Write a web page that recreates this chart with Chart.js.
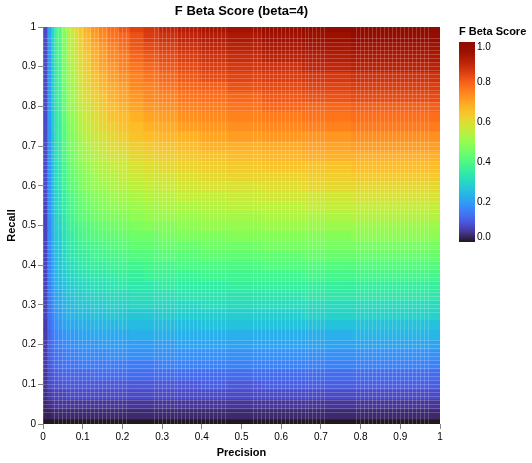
<!DOCTYPE html>
<html>
<head>
<meta charset="utf-8">
<style>
  html, body { margin: 0; background: #fff; }
  canvas { display: block; }
</style>
<script src="https://cdn.jsdelivr.net/npm/chart.js@4"></script>
</head>
<body>
<canvas id="heatmap" width="532" height="463"></canvas>
<script>
// Recall of each row, bottom to top
const recallRows = [0, 0.025, 0.05, 0.075, 0.1, 0.125, 0.15, 0.175, 0.2, 0.225, 0.25, 0.275, 0.3, 0.325, 0.35, 0.375, 0.4, 0.425, 0.45, 0.475, 0.5, 0.525, 0.55, 0.575, 0.6, 0.625, 0.65, 0.675, 0.7, 0.725, 0.75, 0.775, 0.8, 0.825, 0.85, 0.875, 0.9, 0.925, 0.95, 0.975, 1];

// Precision bands, narrow on the left where the colour changes fastest
const precisionEdges = [0, 0.01, 0.02, 0.03, 0.045, 0.06, 0.075, 0.0875, 0.1025, 0.12, 0.14, 0.1625, 0.1875, 0.2175, 0.2525, 0.2925, 0.3375, 0.395, 0.465, 0.55, 0.65, 0.775, 1];

// Score, one list per precision band, same order as recallRows
const band00 = [0, .02, .03, .04, .05, .05, .06, .06, .06, .06, .06, .07, .07, .07, .07, .07, .07, .07, .07, .07, .07, .07, .07, .08, .08, .08, .08, .08, .08, .08, .08, .08, .08, .08, .08, .08, .08, .08, .08, .08, .08];
const band01 = [0, .02, .04, .06, .08, .09, .10, .11, .12, .12, .13, .14, .14, .15, .15, .16, .16, .16, .17, .17, .17, .18, .18, .18, .18, .18, .19, .19, .19, .19, .19, .20, .20, .20, .20, .20, .20, .20, .20, .21, .21];
const band02 = [0, .03, .05, .07, .09, .10, .12, .13, .14, .15, .16, .17, .18, .19, .20, .21, .21, .22, .23, .23, .24, .24, .25, .25, .26, .26, .26, .27, .27, .27, .28, .28, .28, .29, .29, .29, .29, .30, .30, .30, .30];
const band03 = [0, .03, .05, .07, .09, .11, .13, .14, .16, .17, .19, .20, .21, .22, .24, .25, .26, .26, .27, .28, .29, .30, .31, .31, .32, .33, .33, .34, .34, .35, .35, .36, .36, .37, .37, .38, .38, .39, .39, .40, .40];
const band04 = [0, .03, .05, .07, .10, .12, .14, .15, .17, .19, .21, .22, .24, .25, .26, .28, .29, .30, .31, .32, .33, .34, .35, .36, .37, .38, .39, .40, .41, .41, .42, .43, .44, .44, .45, .46, .46, .47, .47, .48, .49];
const band05 = [0, .03, .05, .08, .10, .12, .14, .16, .18, .20, .22, .24, .25, .27, .28, .30, .31, .33, .34, .35, .37, .38, .39, .40, .42, .43, .44, .45, .46, .47, .48, .49, .50, .51, .51, .52, .53, .54, .55, .55, .56];
const band06 = [0, .03, .05, .08, .10, .12, .14, .16, .18, .20, .22, .24, .26, .28, .29, .31, .32, .34, .35, .37, .38, .40, .41, .42, .43, .45, .46, .47, .48, .49, .50, .51, .52, .53, .54, .55, .56, .57, .58, .59, .60];
const band07 = [0, .03, .05, .08, .10, .12, .15, .17, .19, .21, .23, .25, .27, .28, .30, .32, .34, .35, .37, .39, .40, .42, .43, .44, .46, .47, .48, .50, .51, .52, .53, .55, .56, .57, .58, .59, .60, .61, .62, .63, .64];
const band08 = [0, .03, .05, .08, .10, .12, .15, .17, .19, .21, .23, .25, .27, .29, .31, .33, .35, .36, .38, .40, .41, .43, .45, .46, .48, .49, .50, .52, .53, .55, .56, .57, .58, .60, .61, .62, .63, .64, .66, .67, .68];
const band09 = [0, .03, .05, .08, .10, .13, .15, .17, .19, .22, .24, .26, .28, .30, .32, .34, .36, .38, .39, .41, .43, .45, .46, .48, .50, .51, .53, .54, .56, .57, .59, .60, .61, .63, .64, .65, .67, .68, .69, .71, .72];
const band10 = [0, .03, .05, .08, .10, .13, .15, .17, .20, .22, .24, .26, .28, .30, .32, .34, .36, .38, .40, .42, .44, .46, .48, .49, .51, .53, .54, .56, .58, .59, .61, .62, .64, .65, .67, .68, .70, .71, .72, .74, .75];
const band11 = [0, .03, .05, .08, .10, .13, .15, .18, .20, .22, .24, .27, .29, .31, .33, .35, .37, .39, .41, .43, .45, .47, .49, .51, .53, .54, .56, .58, .60, .61, .63, .65, .66, .68, .69, .71, .72, .74, .75, .77, .78];
const band12 = [0, .03, .05, .08, .10, .13, .15, .18, .20, .22, .25, .27, .29, .31, .34, .36, .38, .40, .42, .44, .46, .48, .50, .52, .54, .56, .57, .59, .61, .63, .65, .66, .68, .70, .71, .73, .75, .76, .78, .79, .81];
const band13 = [0, .03, .05, .08, .10, .13, .15, .18, .20, .23, .25, .27, .30, .32, .34, .36, .38, .41, .43, .45, .47, .49, .51, .53, .55, .57, .59, .61, .63, .65, .66, .68, .70, .72, .74, .75, .77, .79, .81, .82, .84];
const band14 = [0, .03, .05, .08, .10, .13, .15, .18, .20, .23, .25, .27, .30, .32, .34, .37, .39, .41, .43, .45, .48, .50, .52, .54, .56, .58, .60, .62, .64, .66, .68, .70, .72, .74, .75, .77, .79, .81, .83, .85, .86];
const band15 = [0, .03, .05, .08, .10, .13, .16, .18, .20, .23, .25, .28, .30, .32, .35, .37, .39, .42, .44, .46, .48, .51, .53, .55, .57, .59, .61, .63, .65, .67, .69, .71, .73, .75, .77, .79, .81, .83, .85, .87, .89];
const band16 = [0, .03, .05, .08, .10, .13, .16, .18, .21, .23, .25, .28, .30, .33, .35, .37, .40, .42, .44, .47, .49, .51, .53, .56, .58, .60, .62, .64, .66, .68, .71, .73, .75, .77, .79, .81, .83, .85, .87, .89, .91];
const band17 = [0, .03, .05, .08, .11, .13, .16, .18, .21, .23, .26, .28, .31, .33, .35, .38, .40, .43, .45, .47, .50, .52, .54, .56, .59, .61, .63, .65, .68, .70, .72, .74, .76, .78, .80, .83, .85, .87, .89, .91, .93];
const band18 = [0, .03, .05, .08, .10, .13, .16, .18, .21, .23, .26, .28, .31, .33, .36, .38, .40, .43, .45, .48, .50, .52, .55, .57, .59, .62, .64, .66, .68, .71, .73, .75, .77, .79, .82, .84, .86, .88, .90, .92, .94];
const band19 = [0, .03, .05, .08, .11, .13, .16, .18, .21, .23, .26, .28, .31, .33, .36, .38, .41, .43, .46, .48, .51, .53, .55, .58, .60, .62, .65, .67, .69, .72, .74, .76, .79, .81, .83, .85, .87, .90, .92, .94, .96];
const band20 = [0, .03, .05, .08, .11, .13, .16, .18, .21, .23, .26, .29, .31, .34, .36, .39, .41, .44, .46, .48, .51, .53, .56, .58, .61, .63, .65, .68, .70, .72, .75, .77, .79, .82, .84, .86, .89, .91, .93, .95, .98];
const band21 = [0, .03, .05, .08, .11, .13, .16, .18, .21, .24, .26, .29, .31, .34, .36, .39, .41, .44, .46, .49, .51, .54, .56, .59, .61, .64, .66, .68, .71, .73, .76, .78, .80, .83, .85, .87, .90, .92, .94, .97, .99];
const scoreBands = [band00, band01, band02, band03, band04, band05, band06, band07, band08, band09, band10, band11, band12, band13, band14, band15, band16, band17, band18, band19, band20, band21];

const legendTicks = [0, 0.2, 0.4, 0.6, 0.8, 1];

const fontFamily = '"Liberation Sans", Arial, sans-serif';

// Stretches of the axis where the pale seams between cells show up
const seamStretches = [[0.03, 0.214], [0.277, 0.466], [0.529, 0.716], [0.781, 0.97]];

// turbo colour scheme
function turbo(t) {
  t = Math.max(0, Math.min(1, t));
  const r = 34.61 + t * (1172.33 - t * (10793.56 - t * (33300.12 - t * (38394.49 - t * 14825.05))));
  const g = 23.31 + t * (557.33 + t * (1225.33 - t * (3574.96 - t * (1073.77 + t * 707.56))));
  const b = 27.2 + t * (3211.1 - t * (15327.97 - t * (27814 - t * (22569.18 - t * 6838.66))));
  return `rgb(${Math.round(r)},${Math.round(g)},${Math.round(b)})`;
}

// One floating bar per row, one dataset per precision band
const datasets = scoreBands.map((scores, i) => ({
  data: recallRows.map(r => ({ x: [precisionEdges[i], precisionEdges[i + 1]], y: r })),
  backgroundColor: scores.map(turbo),
  borderWidth: 0,
  barThickness: 10,
  barPercentage: 1,
  categoryPercentage: 1,
  grouped: false
}));

const isMajor = v => Math.round(v * 100) % 10 === 0;

function seamColor(ctx) {
  if (!ctx.tick) return 'rgba(0,0,0,0)';
  const v = ctx.tick.value;
  return seamStretches.some(s => v >= s[0] && v <= s[1]) ? 'rgba(255,255,255,0.2)' : 'rgba(0,0,0,0)';
}

function axisOptions(title, titlePadding) {
  return {
    type: 'linear',
    min: 0,
    max: 1,
    offset: false,
    border: { display: false },
    grid: {
      z: 1,
      offset: false,
      drawTicks: true,
      tickLength: 5,
      lineWidth: 1,
      color: seamColor,
      tickColor: ctx => ctx.tick && isMajor(ctx.tick.value) ? '#888' : 'rgba(0,0,0,0)'
    },
    ticks: {
      stepSize: 0.01,
      autoSkip: false,
      maxRotation: 0,
      padding: 2,
      color: '#000',
      font: { family: fontFamily, size: 10 },
      callback: v => isMajor(v) ? String(Math.round(v * 10) / 10) : ''
    },
    title: {
      display: true,
      text: title,
      color: '#000',
      padding: titlePadding,
      font: { family: fontFamily, size: 11, weight: 'bold' }
    }
  };
}

const colorLegend = {
  id: 'colorLegend',
  afterDraw(chart) {
    const ctx = chart.ctx;
    const left = 459, width = 16, top = 42, height = 200;
    const gradient = ctx.createLinearGradient(0, top + height, 0, top);
    for (let i = 0; i <= 20; i++) gradient.addColorStop(i / 20, turbo(i / 20));
    ctx.save();
    ctx.fillStyle = gradient;
    ctx.fillRect(left, top, width, height);

    ctx.fillStyle = '#000';
    ctx.textAlign = 'left';
    ctx.textBaseline = 'alphabetic';
    ctx.font = `bold 11px ${fontFamily}`;
    ctx.fillText('F Beta Score', 459, 35);

    ctx.font = `10px ${fontFamily}`;
    ctx.textBaseline = 'middle';
    legendTicks.forEach(v => {
      let y = top + height - v * height;
      // end labels are pulled inside the bar
      if (v === 0) y -= 5;
      if (v === 1) y += 5;
      ctx.fillText(v.toFixed(1), left + width + 2, y);
    });
    ctx.restore();
  }
};

new Chart(document.getElementById('heatmap'), {
  type: 'bar',
  data: { datasets },
  plugins: [colorLegend],
  options: {
    indexAxis: 'y',
    responsive: false,
    animation: false,
    layout: { padding: { right: 92, left: 0, top: 0, bottom: 0 } },
    plugins: {
      legend: { display: false },
      tooltip: { enabled: false },
      title: {
        display: true,
        fullSize: false,
        text: 'F Beta Score (beta=4)',
        color: '#000',
        padding: { top: 4, bottom: 7.4 },
        font: { family: fontFamily, size: 13, weight: 'bold' }
      }
    },
    scales: {
      x: Object.assign(axisOptions('Precision', { top: 0, bottom: 3 }), {
        afterFit: scale => { scale.height = 39; }
      }),
      y: Object.assign(axisOptions('Recall', { top: 5, bottom: 0 }), {
        afterFit: scale => { scale.width = 43; }
      })
    }
  }
});
</script>
</body>
</html>
